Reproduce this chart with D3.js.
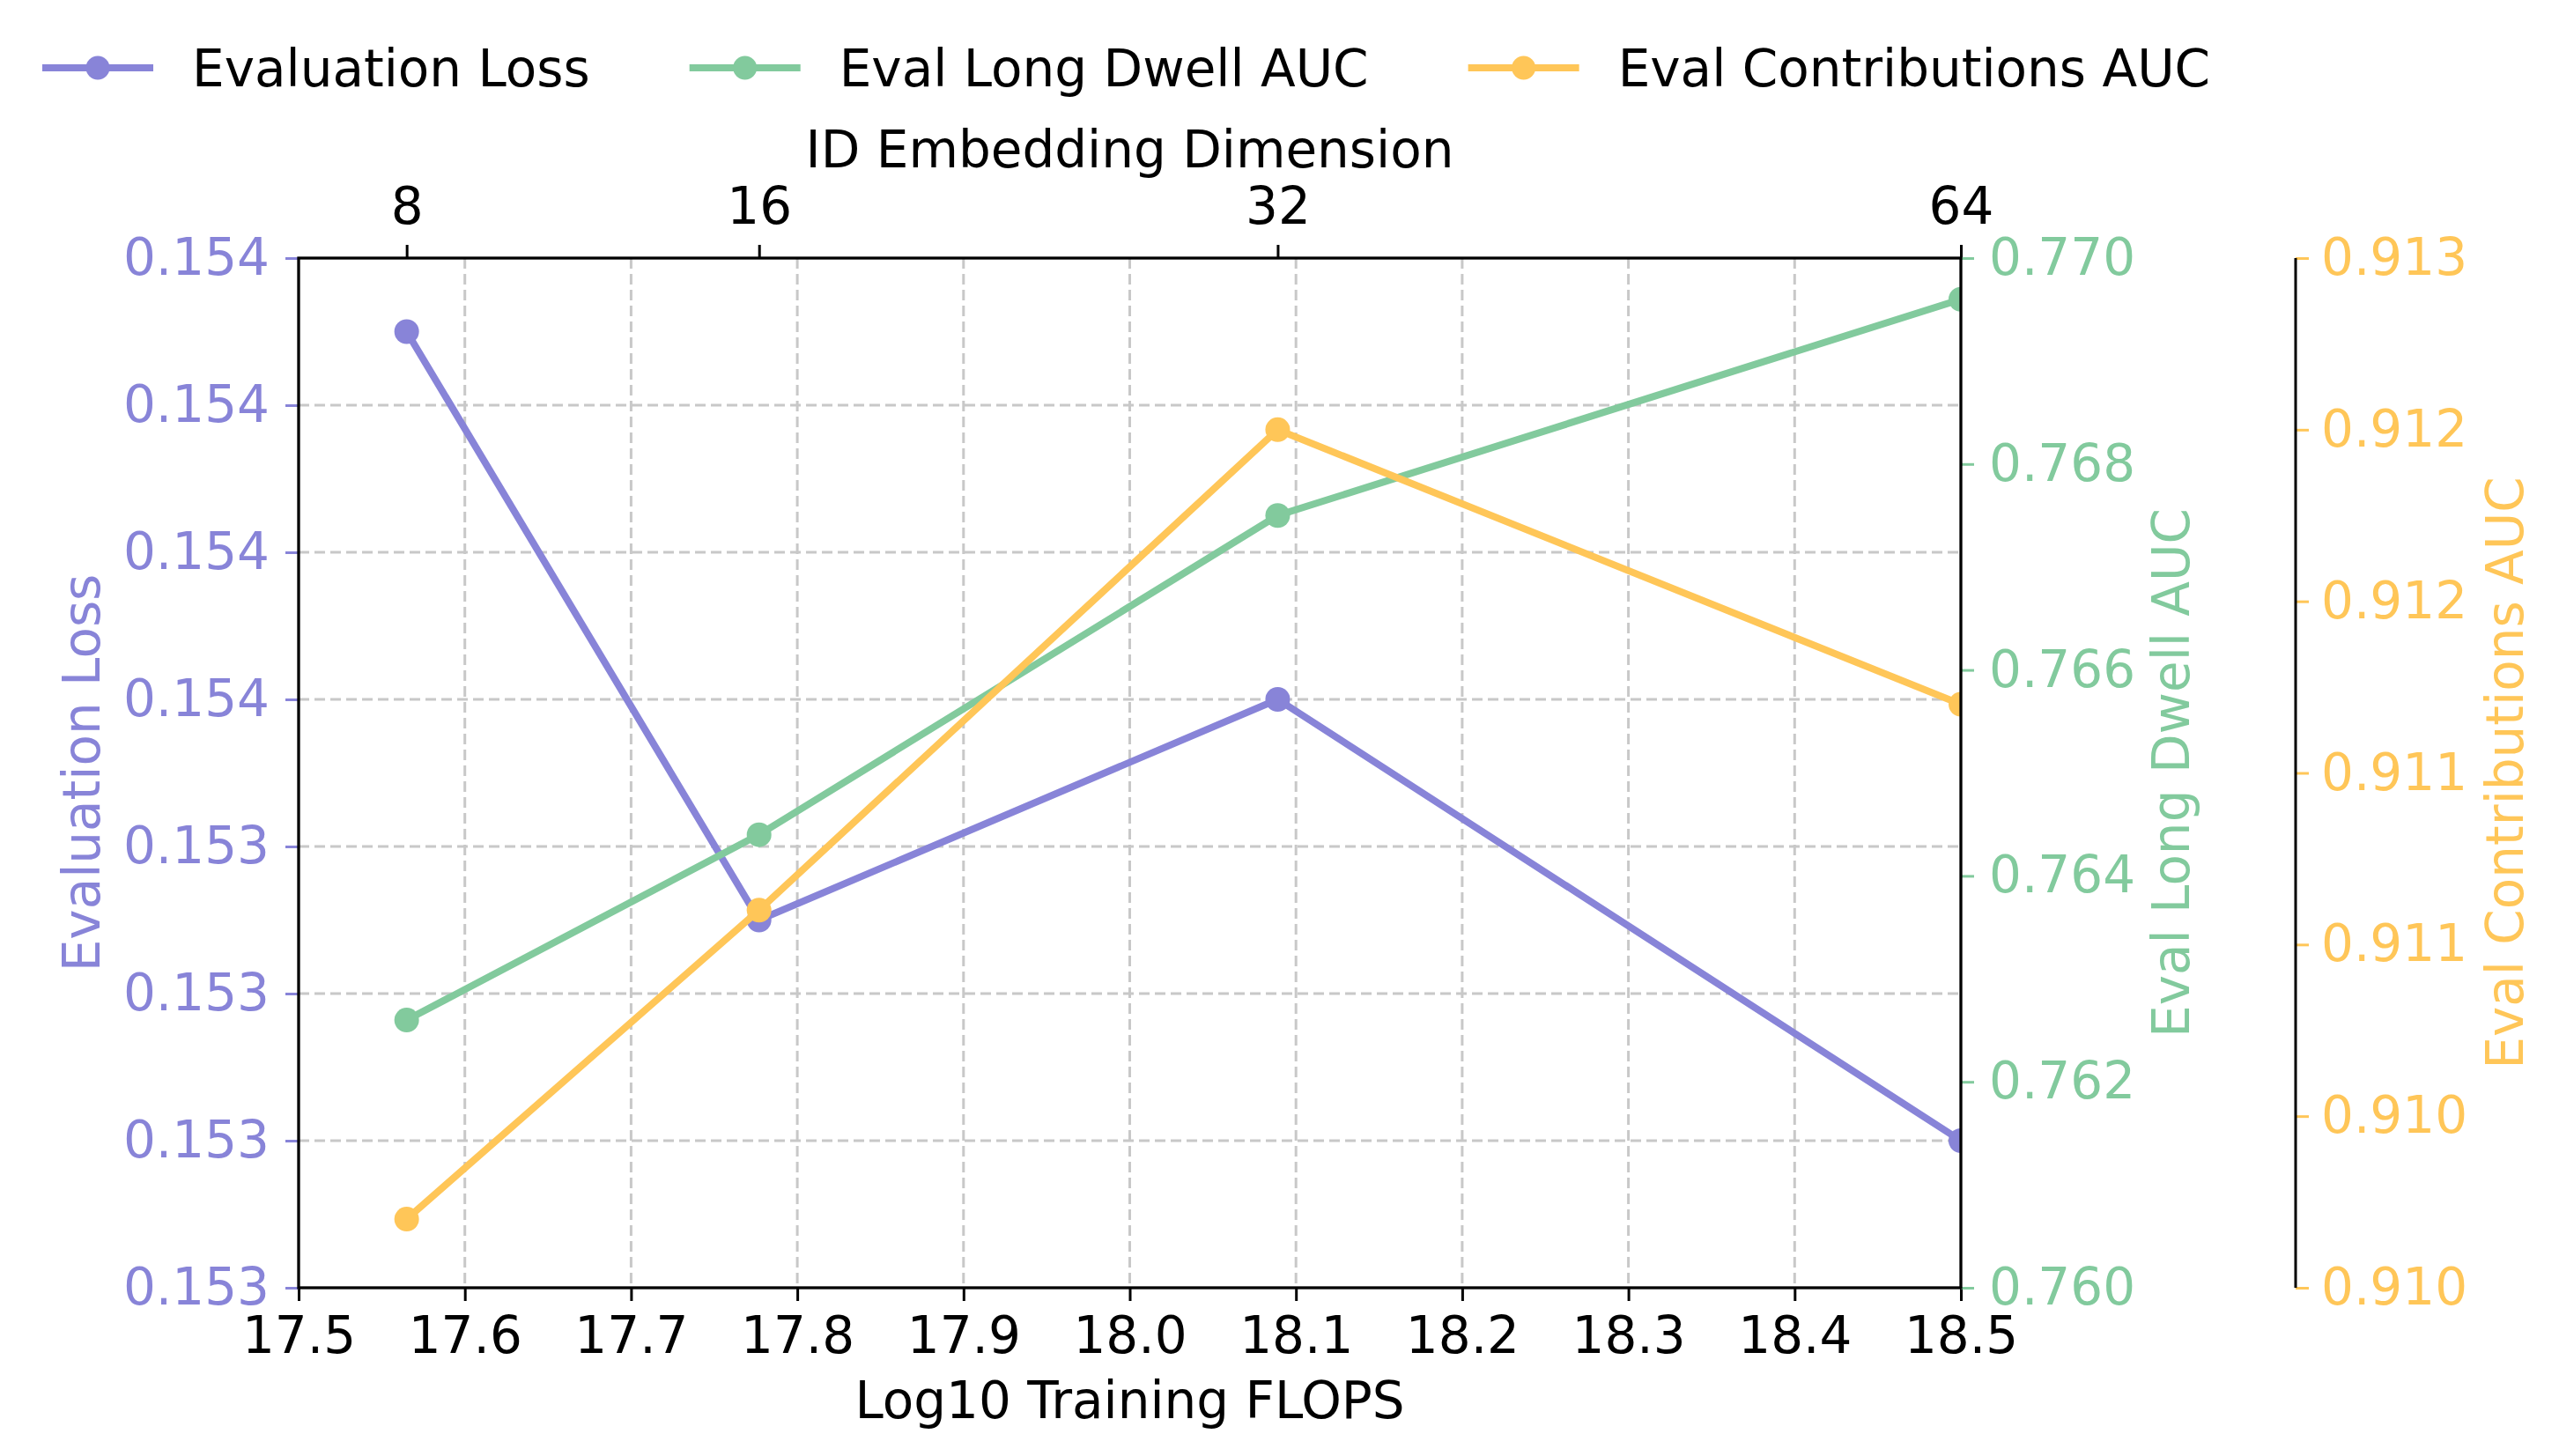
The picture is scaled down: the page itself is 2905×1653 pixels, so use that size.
<!DOCTYPE html>
<html>
<head>
<meta charset="utf-8">
<script src="https://cdn.jsdelivr.net/npm/d3@7"></script>
<style>
  body { margin: 0; background: #fff; }
  text { font-family: "DejaVu Sans", sans-serif; }
</style>
</head>
<body>
<div id="chart-area"></div>
<script>
// data
var flops = [17.565, 17.777, 18.089, 18.5];
var embedDims = ["8", "16", "32", "64"];
var evalLoss = [0.15375, 0.15335, 0.1535, 0.1532];
var longDwellAuc = [0.7626, 0.7644, 0.7675, 0.7696];
var contribAuc = [0.9102, 0.9111, 0.9125, 0.9117];

// tick values / labels
var xTicks = [17.5, 17.6, 17.7, 17.8, 17.9, 18.0, 18.1, 18.2, 18.3, 18.4, 18.5];
var lossTicks = [0.1531, 0.1532, 0.1533, 0.1534, 0.1535, 0.1536, 0.1537, 0.1538];
var lossTickLabels = ["0.153", "0.153", "0.153", "0.153", "0.154", "0.154", "0.154", "0.154"];
var dwellTicks = [0.760, 0.762, 0.764, 0.766, 0.768, 0.770];
var dwellTickLabels = ["0.760", "0.762", "0.764", "0.766", "0.768", "0.770"];
var contribTicks = [0.9100, 0.9105, 0.9110, 0.9115, 0.9120, 0.9125, 0.9130];
var contribTickLabels = ["0.910", "0.910", "0.911", "0.911", "0.912", "0.912", "0.913"];

var seriesNames = ["Evaluation Loss", "Eval Long Dwell AUC", "Eval Contributions AUC"];
var colors = ["#8884d8", "#82ca9d", "#ffc658"];

var W = 2905, H = 1653;
var pLeft = 339, pRight = 2226, pTop = 293, pBottom = 1462;
var axis3X = 2606;
var fs = 58;

var svg = d3.select("#chart-area")
  .append("svg")
  .attr("width", W)
  .attr("height", H);

var x = d3.scaleLinear().domain([17.5, 18.5]).range([pLeft, pRight]);
var yLoss = d3.scaleLinear().domain([0.1531, 0.1538]).range([pBottom, pTop]);
var yDwell = d3.scaleLinear().domain([0.760, 0.770]).range([pBottom, pTop]);
var yContrib = d3.scaleLinear().domain([0.910, 0.913]).range([pBottom, pTop]);

svg.append("clipPath").attr("id", "plot-clip")
  .append("rect")
  .attr("x", pLeft).attr("y", pTop)
  .attr("width", pRight - pLeft).attr("height", pBottom - pTop);

// grid
var grid = svg.append("g");
grid.selectAll(".vgrid")
  .data(xTicks.slice(1, -1))
  .enter().append("line")
  .attr("x1", d => x(d)).attr("x2", d => x(d))
  .attr("y1", pTop).attr("y2", pBottom)
  .attr("stroke", "#c8c8c8").attr("stroke-width", 3)
  .attr("stroke-dasharray", "12,6");
grid.selectAll(".hgrid")
  .data(lossTicks.slice(1, -1))
  .enter().append("line")
  .attr("x1", pLeft).attr("x2", pRight)
  .attr("y1", d => yLoss(d)).attr("y2", d => yLoss(d))
  .attr("stroke", "#c8c8c8").attr("stroke-width", 3)
  .attr("stroke-dasharray", "12,6");

// series
var series = [
  { name: seriesNames[0], values: evalLoss, y: yLoss, color: colors[0] },
  { name: seriesNames[1], values: longDwellAuc, y: yDwell, color: colors[1] },
  { name: seriesNames[2], values: contribAuc, y: yContrib, color: colors[2] }
];

var plot = svg.append("g").attr("clip-path", "url(#plot-clip)");
series.forEach(s => {
  var line = d3.line()
    .x((d, i) => x(flops[i]))
    .y(d => s.y(d));
  plot.append("path")
    .datum(s.values)
    .attr("d", line)
    .attr("fill", "none")
    .attr("stroke", s.color)
    .attr("stroke-width", 8);
  plot.selectAll(null)
    .data(s.values)
    .enter().append("circle")
    .attr("cx", (d, i) => x(flops[i]))
    .attr("cy", d => s.y(d))
    .attr("r", 14)
    .attr("fill", s.color);
});

// axes
function styleAxis(g, color) {
  g.select(".domain").remove();
  g.selectAll(".tick line").attr("stroke", color).attr("stroke-width", 3);
  g.selectAll(".tick text").attr("fill", color)
    .style("font-size", fs + "px")
    .style("font-family", "DejaVu Sans");
}

var gBottom = svg.append("g")
  .attr("transform", `translate(0,${pBottom})`)
  .call(d3.axisBottom(x).tickValues(xTicks).tickFormat(d3.format(".1f")).tickSize(15).tickPadding(18));
styleAxis(gBottom, "#000");

var gTop = svg.append("g")
  .attr("transform", `translate(0,${pTop})`)
  .call(d3.axisTop(x).tickValues(flops).tickFormat((d, i) => embedDims[i]).tickSize(15).tickPadding(24));
styleAxis(gTop, "#000");

var gLeft = svg.append("g")
  .attr("transform", `translate(${pLeft},0)`)
  .call(d3.axisLeft(yLoss).tickValues(lossTicks).tickFormat((d, i) => lossTickLabels[i]).tickSize(15).tickPadding(18));
styleAxis(gLeft, colors[0]);

var gRight = svg.append("g")
  .attr("transform", `translate(${pRight},0)`)
  .call(d3.axisRight(yDwell).tickValues(dwellTicks).tickFormat((d, i) => dwellTickLabels[i]).tickSize(15).tickPadding(17));
styleAxis(gRight, colors[1]);

var gThird = svg.append("g")
  .attr("transform", `translate(${axis3X},0)`)
  .call(d3.axisRight(yContrib).tickValues(contribTicks).tickFormat((d, i) => contribTickLabels[i]).tickSize(15).tickPadding(14));
styleAxis(gThird, colors[2]);

// spines
svg.append("rect")
  .attr("x", pLeft).attr("y", pTop)
  .attr("width", pRight - pLeft).attr("height", pBottom - pTop)
  .attr("fill", "none").attr("stroke", "#000").attr("stroke-width", 3.3);
svg.append("line")
  .attr("x1", axis3X).attr("x2", axis3X)
  .attr("y1", pTop).attr("y2", pBottom)
  .attr("stroke", "#000").attr("stroke-width", 3);

// axis titles
var midY = (pTop + pBottom) / 2, midX = (pLeft + pRight) / 2;
svg.append("text")
  .attr("x", midX).attr("y", 1610)
  .attr("text-anchor", "middle")
  .style("font-size", fs + "px")
  .text("Log10 Training FLOPS");
svg.append("text")
  .attr("x", midX).attr("y", 190)
  .attr("text-anchor", "middle")
  .style("font-size", fs + "px")
  .text("ID Embedding Dimension");

var yTitles = [
  { text: seriesNames[0], x: 113, color: colors[0] },
  { text: seriesNames[1], x: 2485, color: colors[1] },
  { text: seriesNames[2], x: 2864, color: colors[2] }
];
svg.selectAll(".ytitle")
  .data(yTitles)
  .enter().append("text")
  .attr("transform", d => `translate(${d.x},${midY}) rotate(-90)`)
  .attr("text-anchor", "middle")
  .attr("fill", d => d.color)
  .style("font-size", fs + "px")
  .text(d => d.text);

// legend
var legend = svg.append("g");
var lx = 48, ly = 77;
series.forEach(s => {
  var item = legend.append("g");
  item.append("line")
    .attr("x1", lx).attr("x2", lx + 126)
    .attr("y1", ly).attr("y2", ly)
    .attr("stroke", s.color).attr("stroke-width", 8);
  item.append("circle")
    .attr("cx", lx + 63).attr("cy", ly)
    .attr("r", 13.5)
    .attr("fill", s.color);
  var t = item.append("text")
    .attr("x", lx + 170).attr("y", ly)
    .attr("dy", "0.36em")
    .style("font-size", fs + "px")
    .text(s.name);
  lx = lx + 170 + t.node().getComputedTextLength() + 113;
});
</script>
</body>
</html>
